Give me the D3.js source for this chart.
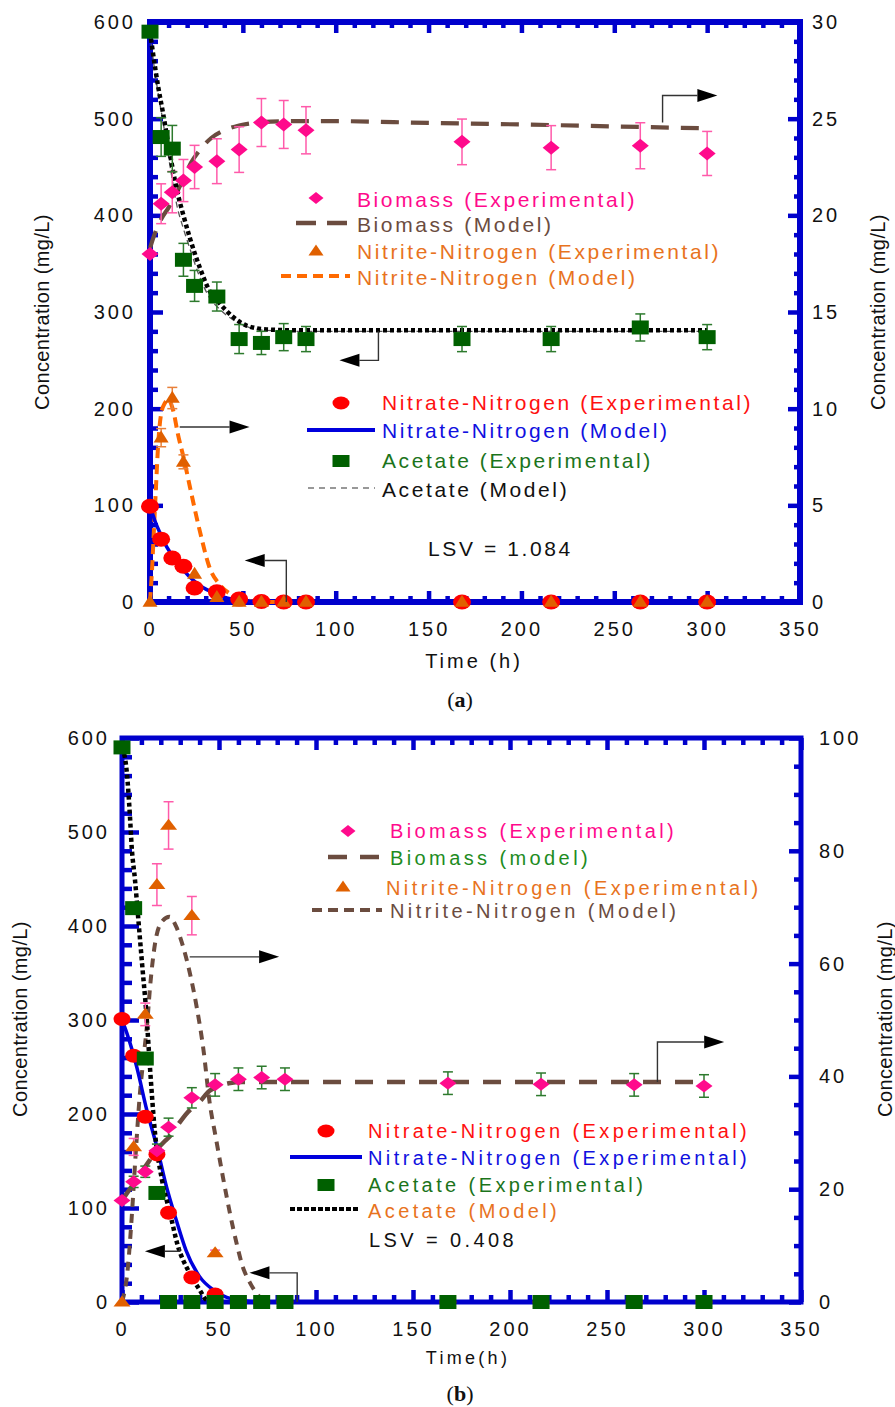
<!DOCTYPE html>
<html><head><meta charset="utf-8">
<script src="https://cdn.jsdelivr.net/npm/d3@7"></script>
<style>
body{margin:0;background:#fff;}
svg{display:block;font-family:"Liberation Sans",Arial,sans-serif;}
</style></head><body>
<svg id="c" width="895" height="1407"></svg>
<script>
// ---------------- DATA ----------------
const xTicks = [0,50,100,150,200,250,300,350];
const leftTicks = [0,100,200,300,400,500,600];
const rightTicksA = [0,5,10,15,20,25,30];
const rightTicksB = [0,20,40,60,80,100];

// Panel (a)
const timeA = [0,6,12,18,24,36,48,60,72,84,168,216,264,300];
const nitrateA = [99,65,45.5,37,14.5,10.5,3,0.5,0,0,0,0,0,0];
const nitriteA = [0,8.5,10.55,7.25,1.45,0.25,0,0,0,0,0,0,0,0];
const nitriteErrA = [0,0.47,0.55,0.36,0,0,0,0,0,0,0,0,0,0];
const acetateA = [590,481,469,354,327,316,272,268,274,272,272,272,284,274];
const acetateErrA = [0,20,24,17,16,15,15,12,14,13,13,13,14,13];
const biomassA = [18.0,20.6,21.2,21.8,22.5,22.8,23.4,24.8,24.7,24.4,23.8,23.5,23.6,23.2];
const biomassErrA = [0,1.03,1.07,1.09,1.12,1.16,1.18,1.24,1.24,1.22,1.18,1.14,1.19,1.14];

const biomassModelTA = [0,2,6,10,14,18,22,27,33,40,48,56,65,80,100,150,200,250,300];
const biomassModelA = [18.3,18.9,19.8,20.4,21.1,21.9,22.7,23.4,24.0,24.4,24.65,24.78,24.85,24.87,24.87,24.78,24.7,24.6,24.5];
const nitriteModelTA = [0,1,2,3,4.5,7,10,12.5,15,18.5,21.5,27,32,37.5,44.5,52,60,70];
const nitriteModelA = [0,1.5,3.5,5.5,8.3,10.1,10.45,9.9,8.7,7.3,5.95,3.6,1.8,0.9,0.35,0.1,0,0];
const nitrateModelTA = [0,3,5.5,9,13.5,18,23,28.5,34,39,45,52,60];
const nitrateModelA = [100,82,71,57,44,33,23,15,9.7,5.5,2.8,1,0];
const acetateModelTA = [0,1.6,4.4,7,10.7,14.5,17.7,21.4,26.8,32,37.5,44.6,52,62.7,80,120,200,300];
const acetateModelA = [590,568,533,506,464,426,402,377,346,322,309,295,286,282,281,281,281,281];
const acetateModel2A = [588,563,526,497,452,410,388,366,336,315,303,292,285,281,280,280,280,280];

// Panel (b)
const timeB = [0,6,12,18,24,36,48,60,72,84,168,216,264,300];
const nitrateB = [301,262,197,157,95,26,8,0,0,0,0,0,0,0];
const nitriteB = [0,27.5,51,74,84.5,68.5,8.7,0,0,0,0,0,0,0];
const nitriteErrB = [0,1.5,2,3.7,4.2,3.4,0.5,0,0,0,0,0,0,0];
const acetateB = [590,419,259,116,0,0,0,0,0,0,0,0,0,0];
const biomassB = [18,21.3,23.1,26.8,31,36.2,38.5,39.5,39.8,39.5,38.8,38.6,38.5,38.3];
const biomassErrB = [0,1,1,1.2,1.6,1.8,2,2,2,2,2,2,2,2];

const nitrateModelTB = [0,2.5,7.6,12.8,18,23,28,33,40,47,54,61,70];
const nitrateModelB = [300,286,250,204,165,122,87,55,27,13,5,2,0];
const acetateModelTB = [0,2.5,4,5,6.7,8.3,10.3,12.7,14.4,17,20.6,24.7,28.9,34,40,43.6,47];
const acetateModelB = [590,563,520,484,449,410,361,303,250,180,130,95,59,34,13,2,0];
const nitriteModelTB = [0,3,5,7,9,11,13,14.5,17,20.5,24.5,28,31.5,35,38.5,42,45,48.6,52,55.6,59,62.3,66,71,76];
const nitriteModelB = [0,6,15,26,36,43,49.5,56,63.5,67.4,68.3,66.5,63,58.3,52.3,44.7,35.8,28.7,22.2,15.8,10.5,6.2,3.4,0.9,0];
const biomassModelTB = [0,3,6,10,14,18,22,25,29,34,40,45,50,55,62,80,150,300];
const biomassModelB = [18,19.5,21,23,25,27,28.5,29.5,31.5,33.7,35.5,37.4,38.3,38.8,39,39,39,39];

// Annotation arrows, in data units: [time, value] on the named axis
const arrowsA = [
  {axis:"R", pts:[[276,24.8],[276,26.2],[305.5,26.2]]},
  {axis:"L", pts:[[123,280],[123,250],[102,250]]},
  {axis:"R", pts:[[16,9.05],[53.6,9.05]]},
  {axis:"L", pts:[[73.4,0],[73.4,43],[51,43]]}
];
const arrowsB = [
  {axis:"R", pts:[[34.9,61.2],[81,61.2]]},
  {axis:"R", pts:[[276,39],[276,46.1],[310.4,46.1]]},
  {axis:"L", pts:[[29.8,58],[29.8,54],[11.8,54]]},
  {axis:"L", pts:[[90.3,0],[90.3,31],[65.7,31]]}
];

const legendA1 = ["Biomass (Experimental)","Biomass (Model)","Nitrite-Nitrogen (Experimental)","Nitrite-Nitrogen (Model)"];
const legendA2 = ["Nitrate-Nitrogen (Experimental)","Nitrate-Nitrogen (Model)","Acetate (Experimental)","Acetate (Model)"];
const legendB1 = ["Biomass (Experimental)","Biomass (model)","Nitrite-Nitrogen (Experimental)","Nitrite-Nitrogen (Model)"];
const legendB2 = ["Nitrate-Nitrogen (Experimental)","Nitrate-Nitrogen (Experimental)","Acetate (Experimental)","Acetate (Model)"];
const lsvA = "LSV = 1.084", lsvB = "LSV = 0.408";

// ---------------- COLOURS ----------------
const C = {
  axis:"#0000CC", pink:"#FF0A8C", pinkBar:"#FF5AAA", brown:"#6B4C3F",
  orangeMk:"#E06000", orangeLn:"#FF6A00", orangeTx:"#E8731E",
  red:"#FF0000", blue:"#0000DD", green:"#006000", greenBar:"#2D7A2D",
  greenTx:"#1B741B", greenTx2:"#1E8C1E"
};

const svg = d3.select("#c");

function mk(g, type, cx, cy, w, h, fill){
  if(type==="circle") return g.append("ellipse").attr("cx",cx).attr("cy",cy).attr("rx",w/2).attr("ry",h/2).attr("fill",fill);
  if(type==="square") return g.append("rect").attr("x",cx-w/2).attr("y",cy-h/2).attr("width",w).attr("height",h).attr("fill",fill);
  let d;
  if(type==="diamond") d=`M${cx},${cy-h/2}L${cx+w/2},${cy}L${cx},${cy+h/2}L${cx-w/2},${cy}Z`;
  else d=`M${cx},${cy-h*0.6}L${cx+w/2},${cy+h*0.4}L${cx-w/2},${cy+h*0.4}Z`;
  return g.append("path").attr("d",d).attr("fill",fill);
}

function drawPanel(p){
  const g = svg.append("g");
  const x = d3.scaleLinear().domain([0,350]).range([p.left,p.right]);
  const yL = d3.scaleLinear().domain([0,600]).range([p.bottom,p.top]);
  const yR = d3.scaleLinear().domain([0,p.rMax]).range([p.bottom,p.top]);
  const sc = a => a==="L"?yL:yR;

  // frame
  g.append("rect").attr("x",p.left).attr("y",p.top).attr("width",p.right-p.left).attr("height",p.bottom-p.top)
    .attr("fill","none").attr("stroke",C.axis).attr("stroke-width",p.frameW);

  function ax(axisFn, scale, vals, len, tr, label, pad){
    const a = axisFn(scale).tickValues(vals).tickSize(-len).tickSizeOuter(0).tickPadding(pad||0);
    if(!label) a.tickFormat("");
    const s = g.append("g").attr("transform",tr).call(a);
    s.attr("font-family",null).attr("font-size",null);
    s.select(".domain").remove();
    s.selectAll(".tick line").attr("stroke",C.axis).attr("stroke-width",p.tickW);
    s.selectAll(".tick text").attr("fill","#111").style("font-size",p.tickFont+"px").style("letter-spacing",p.tickLS+"px");
    return s;
  }
  const xMinor = d3.range(0,351,10).filter(v=>v%50);
  const lMinor = d3.range(0,601,20).filter(v=>v%100);
  const rMinor = d3.range(0,p.rMax+0.001,p.rMinorStep).filter(v=>Math.abs(v/p.rMajorStep-Math.round(v/p.rMajorStep))>1e-6);
  // bottom
  ax(d3.axisBottom,x,xMinor,p.hMinor,`translate(0,${p.bottom})`,false);
  const bx = ax(d3.axisBottom,x,xTicks,p.hMajor,`translate(0,${p.bottom})`,true,p.xPad);
  bx.selectAll(".tick text").attr("dy",null).attr("y",p.xLabelY-p.bottom);
  // top
  ax(d3.axisTop,x,xMinor,p.hMinor,`translate(0,${p.top})`,false);
  ax(d3.axisTop,x,xTicks,p.hMajor,`translate(0,${p.top})`,false);
  // left
  ax(d3.axisLeft,yL,lMinor,p.lMinor,`translate(${p.left},0)`,false);
  ax(d3.axisLeft,yL,leftTicks,p.lMajor,`translate(${p.left},0)`,true,p.lPad);
  // right
  ax(d3.axisRight,yR,rMinor,p.rMinorLen,`translate(${p.right},0)`,false);
  ax(d3.axisRight,yR,p.rTicks,p.rMajorLen,`translate(${p.right},0)`,true,p.rPad);

  // model lines
  p.lines.forEach(l=>{
    const s = sc(l.axis);
    const pts = l.t.map((t,i)=>[x(t),s(l.v[i])]);
    g.append("path").attr("d",d3.line().curve(d3.curveMonotoneX)(pts))
      .attr("fill","none").attr("stroke",l.color).attr("stroke-width",l.w)
      .attr("stroke-dasharray",l.dash||null);
  });

  // error bars
  p.bars.forEach(b=>{
    const s = sc(b.axis);
    b.v.forEach((v,i)=>{
      const e=b.err[i]; if(!e) return;
      const cx=x(b.t[i]);
      const y1=s(v-e), y2=s(v+e);
      g.append("line").attr("x1",cx).attr("x2",cx).attr("y1",y1).attr("y2",y2).attr("stroke",b.color).attr("stroke-width",1.5);
      [y1,y2].forEach(yy=>g.append("line").attr("x1",cx-5).attr("x2",cx+5).attr("y1",yy).attr("y2",yy).attr("stroke",b.color).attr("stroke-width",1.5));
    });
  });

  // markers
  p.marks.forEach(m=>{
    const s = sc(m.axis);
    m.v.forEach((v,i)=>mk(g,m.type,x(m.t[i]),s(v),m.w,m.h,m.color));
  });

  // arrows
  p.arrows.forEach(a=>{
    const s = sc(a.axis);
    const pts = a.pts.map(d=>[x(d[0]),s(d[1])]);
    const n=pts.length, tip=pts[n-1], prev=pts[n-2];
    const dx=tip[0]-prev[0], dy=tip[1]-prev[1], L=Math.hypot(dx,dy), ux=dx/L, uy=dy/L;
    const hl=20, hw=6.5;
    const base=[tip[0]-ux*hl, tip[1]-uy*hl];
    const line=pts.slice(0,n-1).concat([base]);
    g.append("path").attr("d",d3.line()(line)).attr("fill","none").attr("stroke","#333").attr("stroke-width",1.4);
    g.append("path").attr("d",`M${tip[0]},${tip[1]}L${base[0]-uy*hw},${base[1]+ux*hw}L${base[0]+uy*hw},${base[1]-ux*hw}Z`).attr("fill","#000");
  });

  // legend
  p.legend.forEach(r=>{
    if(r.mk) mk(g,r.mk,r.mx,r.my,r.w,r.h,r.mc);
    if(r.line) g.append("line").attr("x1",r.line[0]).attr("x2",r.line[1]).attr("y1",r.my).attr("y2",r.my)
       .attr("stroke",r.lc).attr("stroke-width",r.lw).attr("stroke-dasharray",r.dash||null);
    g.append("text").attr("x",r.tx).attr("y",r.ty).attr("fill",r.tc)
      .style("font-size",p.legFont+"px").style("letter-spacing",p.legLS+"px").text(r.text);
  });

  // titles
  const t = p.titles;
  g.append("text").attr("transform",`translate(${t.lx},${t.cy}) rotate(-90)`).attr("text-anchor","middle")
    .style("font-size",t.yFont+"px").style("letter-spacing",t.yLS+"px").attr("fill","#111").text("Concentration (mg/L)");
  g.append("text").attr("transform",`translate(${t.rx},${t.cy}) rotate(-90)`).attr("text-anchor","middle")
    .style("font-size",t.yFont+"px").style("letter-spacing",t.yLS+"px").attr("fill","#111").text("Concentration (mg/L)");
  g.append("text").attr("x",t.xx).attr("y",t.xy).attr("text-anchor","middle")
    .style("font-size",t.xFont+"px").style("letter-spacing",t.xLS+"px").attr("fill","#111").text(t.xText);
  const pl = g.append("text").attr("x",t.px).attr("y",t.py).attr("text-anchor","middle")
    .style("font-family","'Liberation Serif','DejaVu Serif',serif").style("font-size","22px").attr("fill","#111");
  pl.append("tspan").text("(");
  pl.append("tspan").style("font-weight","bold").text(t.pLetter);
  pl.append("tspan").text(")");
}

// ---------------- PANEL (a) ----------------
drawPanel({
  left:150, right:800, top:22, bottom:602, rMax:30, rTicks:rightTicksA, rMajorStep:5, rMinorStep:1,
  frameW:6, tickW:4.5, hMajor:11, hMinor:6, lMajor:13, lMinor:8, rMajorLen:12, rMinorLen:6,
  tickFont:20, tickLS:3, xPad:10, xLabelY:636, lPad:14, rPad:12,
  lines:[
    {axis:"R", t:biomassModelTA, v:biomassModelA, color:C.brown, w:4.2, dash:"18,12"},
    {axis:"R", t:nitriteModelTA, v:nitriteModelA, color:C.orangeLn, w:4, dash:"10,6"},
    {axis:"L", t:nitrateModelTA, v:nitrateModelA, color:C.blue, w:3.5},
    {axis:"L", t:acetateModelTA, v:acetateModel2A, color:"#555", w:1.3, dash:"6,4"},
    {axis:"L", t:acetateModelTA, v:acetateModelA, color:"#000", w:4.5, dash:"4,3"}
  ],
  bars:[
    {axis:"R", t:timeA, v:biomassA, err:biomassErrA, color:C.pinkBar},
    {axis:"L", t:timeA, v:acetateA, err:acetateErrA, color:C.greenBar},
    {axis:"R", t:timeA, v:nitriteA, err:nitriteErrA, color:"#E8803A"}
  ],
  marks:[
    {axis:"R", type:"diamond", t:timeA, v:biomassA, w:17, h:14, color:C.pink},
    {axis:"L", type:"square", t:timeA, v:acetateA, w:17, h:14, color:C.green},
    {axis:"L", type:"circle", t:timeA, v:nitrateA, w:18, h:15, color:C.red},
    {axis:"R", type:"tri", t:timeA, v:nitriteA, w:15, h:12, color:C.orangeMk}
  ],
  arrows:arrowsA,
  legFont:21, legLS:2.6,
  legend:[
    {mk:"diamond", mx:316, my:198, w:15, h:12, mc:C.pink, tx:357, ty:207, tc:C.pink, text:legendA1[0]},
    {line:[296,347], my:223, lc:C.brown, lw:4.5, dash:"20,11", tx:357, ty:232, tc:C.brown, text:legendA1[1]},
    {mk:"tri", mx:316, my:251, w:15, h:11, mc:C.orangeMk, tx:357, ty:259, tc:C.orangeTx, text:legendA1[2]},
    {line:[281,350], my:276, lc:C.orangeLn, lw:4, dash:"10,6", tx:357, ty:285, tc:C.orangeTx, text:legendA1[3]},
    {mk:"circle", mx:341, my:403, w:17, h:13, mc:C.red, tx:382, ty:410, tc:"#FF1010", text:legendA2[0]},
    {line:[307,375], my:430, lc:C.blue, lw:4, tx:382, ty:438, tc:"#1010E0", text:legendA2[1]},
    {mk:"square", mx:341, my:461, w:17, h:12, mc:C.green, tx:382, ty:468, tc:C.greenTx, text:legendA2[2]},
    {line:[308,375], my:488, lc:"#777", lw:1.5, dash:"6,5", tx:382, ty:497, tc:"#111", text:legendA2[3]},
    {tx:428, ty:556, tc:"#111", text:lsvA}
  ],
  titles:{lx:49, rx:885, cy:312, yFont:20, yLS:0.4, xx:474, xy:668, xFont:20, xLS:3, xText:"Time (h)", px:460, py:707, pLetter:"a"}
});

// ---------------- PANEL (b) ----------------
drawPanel({
  left:122, right:801, top:738, bottom:1302, rMax:100, rTicks:rightTicksB, rMajorStep:20, rMinorStep:5,
  frameW:5, tickW:4.5, hMajor:12, hMinor:7, lMajor:17, lMinor:10, rMajorLen:12, rMinorLen:7,
  tickFont:20, tickLS:3, xPad:10, xLabelY:1336, lPad:12, rPad:18,
  lines:[
    {axis:"R", t:biomassModelTB, v:biomassModelB, color:C.brown, w:4.5, dash:"18,14"},
    {axis:"R", t:nitriteModelTB, v:nitriteModelB, color:C.brown, w:4, dash:"9,7"},
    {axis:"L", t:nitrateModelTB, v:nitrateModelB, color:C.blue, w:3.5},
    {axis:"L", t:acetateModelTB, v:acetateModelB, color:"#000", w:4.5, dash:"4,3"}
  ],
  bars:[
    {axis:"R", t:timeB, v:biomassB, err:biomassErrB, color:C.greenBar},
    {axis:"R", t:timeB, v:nitriteB, err:nitriteErrB, color:C.pinkBar}
  ],
  marks:[
    {axis:"L", type:"circle", t:timeB, v:nitrateB, w:17, h:14, color:C.red},
    {axis:"R", type:"tri", t:timeB, v:nitriteB, w:17, h:11, color:C.orangeMk},
    {axis:"L", type:"square", t:timeB, v:acetateB, w:17, h:14, color:C.green},
    {axis:"R", type:"diamond", t:timeB, v:biomassB, w:17, h:13, color:C.pink}
  ],
  arrows:arrowsB,
  legFont:20, legLS:3.4,
  legend:[
    {mk:"diamond", mx:348, my:831, w:15, h:12, mc:C.pink, tx:390, ty:838, tc:C.pink, text:legendB1[0]},
    {line:[328,380], my:857, lc:C.brown, lw:4.5, dash:"19,13", tx:390, ty:865, tc:C.greenTx2, text:legendB1[1]},
    {mk:"tri", mx:343, my:887, w:15, h:11, mc:C.orangeMk, tx:386, ty:895, tc:C.orangeTx, text:legendB1[2]},
    {line:[312,382], my:910, lc:C.brown, lw:4, dash:"10,6", tx:390, ty:918, tc:C.brown, text:legendB1[3]},
    {mk:"circle", mx:326, my:1131, w:17, h:13, mc:C.red, tx:368, ty:1138, tc:"#FF1010", text:legendB2[0]},
    {line:[290,362], my:1157, lc:C.blue, lw:4, tx:368, ty:1165, tc:"#1010E0", text:legendB2[1]},
    {mk:"square", mx:326, my:1185, w:17, h:12, mc:C.green, tx:368, ty:1192, tc:C.greenTx, text:legendB2[2]},
    {line:[290,360], my:1209, lc:"#000", lw:4, dash:"5,2", tx:368, ty:1218, tc:C.orangeTx, text:legendB2[3]},
    {tx:369, ty:1247, tc:"#111", text:lsvB}
  ],
  titles:{lx:27, rx:892, cy:1019, yFont:20, yLS:0.4, xx:468, xy:1364, xFont:18, xLS:3.3, xText:"Time(h)", px:460, py:1401, pLetter:"b"}
});
</script>
</body></html>
